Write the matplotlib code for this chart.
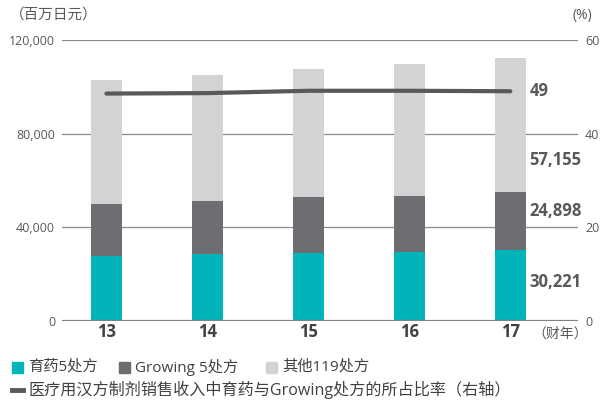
import matplotlib
matplotlib.use("Agg")
import matplotlib.pyplot as plt
from matplotlib.patches import Rectangle
from matplotlib.lines import Line2D

plt.rcParams['font.family'] = ['Open Sans', 'Noto Sans CJK SC', 'DejaVu Sans']

years = ["13", "14", "15", "16", "17"]
ikuyaku5 = [27700, 28700, 29000, 29600, 30221]
growing5 = [22300, 22600, 24000, 23800, 24898]
other119 = [53100, 53900, 54800, 56600, 57155]
ratio = [48.6, 48.7, 49.2, 49.2, 49.1]

left_ticks = [0, 40000, 80000, 120000]
left_labels = ["0", "40,000", "80,000", "120,000"]
right_ticks = [0, 20, 40, 60]

c_teal = "#00B4BA"
c_dark = "#6D6E71"
c_light = "#D1D3D4"
c_line = "#58595B"
c_text = "#58595B"

fig = plt.figure(figsize=(6.01, 4.01), dpi=100)
ax = fig.add_axes([62/601, 80.3/401, 516/601, 280.4/401])
x = list(range(len(years)))
w = 0.307
b2 = ikuyaku5
b3 = [a + b for a, b in zip(ikuyaku5, growing5)]
ax.bar(x, ikuyaku5, w, color=c_teal, zorder=2)
ax.bar(x, growing5, w, bottom=b2, color=c_dark, zorder=2)
ax.bar(x, other119, w, bottom=b3, color=c_light, zorder=2)

ax.set_xlim(-0.44, 4.67)
ax.set_ylim(0, 120000)
for t in left_ticks[1:]:
    ax.axhline(t, color="#8a8b8d", lw=0.9, zorder=1)
ax.axhline(0, color="#808285", lw=1.6, zorder=3)
for s in ax.spines.values():
    s.set_visible(False)
ax.set_yticks(left_ticks)
ax.set_yticklabels(left_labels)
ax.tick_params(axis='y', length=0, pad=5, labelsize=9, labelcolor="#58595B")
ax.set_xticks(x)
ax.set_xticklabels(years, fontsize=12, fontweight='bold', color="#414042")
ax.tick_params(axis='x', length=0, pad=2)

ax2 = ax.twinx()
ax2.set_ylim(0, 60)
ax2.set_yticks(right_ticks)
for s in ax2.spines.values():
    s.set_visible(False)
ax2.tick_params(axis='y', length=0, pad=5, labelsize=9, labelcolor="#58595B")
ax2.plot(x, ratio, color=c_line, lw=3, solid_capstyle='round', zorder=5)

# value labels
lx = 4 + 0.19
ax2.text(lx, ratio[-1], "49", fontsize=12, fontweight='bold', color=c_text, va='center', ha='left')
ax.text(lx, b3[-1] + other119[-1] * 0.24, f"{other119[-1]:,}", fontsize=12, fontweight='bold', color=c_text, va='center', ha='left')
ax.text(lx, b2[-1] + growing5[-1] * 0.68, f"{growing5[-1]:,}", fontsize=12, fontweight='bold', color=c_text, va='center', ha='left')
ax.text(lx, ikuyaku5[-1] * 0.55, f"{ikuyaku5[-1]:,}", fontsize=12, fontweight='bold', color=c_text, va='center', ha='left')

fig.text(10/601, 1 - 15/401, "（百万日元）", fontsize=10.5, color=c_text, va='center', ha='left')
fig.text(592/601, 1 - 15/401, "(%)", fontsize=10, color=c_text, va='center', ha='right')
fig.text(532/601, 1 - 334/401, "（财年）", fontsize=10, color=c_text, va='center', ha='left')

# legend
def sq(x0, color):
    fig.add_artist(Rectangle((x0/601, 1 - 372.5/401), 11/601, 11/401, color=color, transform=fig.transFigure))
row1 = 1 - 367/401
sq(12, c_teal)
fig.text(28/601, row1, "育药5处方", fontsize=11, color="#414042", va='center')
sq(119, c_dark)
fig.text(135/601, row1, "Growing 5处方", fontsize=11, color="#414042", va='center')
sq(266, c_light)
fig.text(282/601, row1, "其他119处方", fontsize=11, color="#414042", va='center')
fig.add_artist(Line2D([12/601, 23/601], [1 - 389.5/401, 1 - 389.5/401], color=c_line, lw=3.5, transform=fig.transFigure))
fig.text(28/601, 1 - 389.5/401, "医疗用汉方制剂销售收入中育药与Growing处方的所占比率（右轴）", fontsize=11.6, color="#414042", va='center')

fig.savefig("out.png", dpi=100)
